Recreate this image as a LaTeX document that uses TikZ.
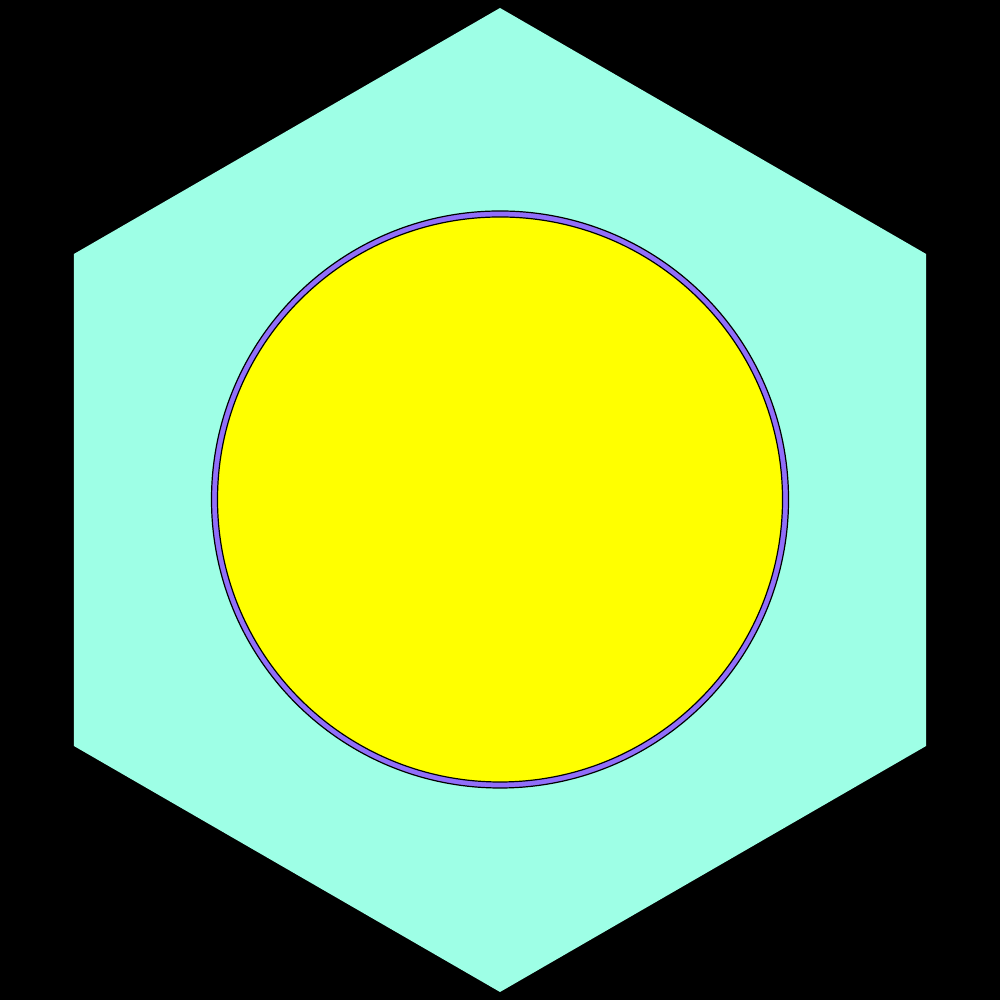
\documentclass[tikz,border=0pt]{standalone}
\usepackage{xcolor}
\usepackage{tikz}
\definecolor{hexfill}{RGB}{158,255,230}
\definecolor{ringcol}{RGB}{145,110,250}
\definecolor{corefill}{RGB}{255,255,0}

\begin{document}
\begin{tikzpicture}
  \fill[black] (0,0) rectangle (10,10);
  \useasboundingbox (0,0) rectangle (10,10);
  \begin{scope}[shift={(5,5)}]
    % hexagon
    \fill[hexfill] (90:4.92) -- (150:4.92) -- (210:4.92) -- (270:4.92)
      -- (330:4.92) -- (30:4.92) -- cycle;
    % ring and core
    \fill[ringcol, draw=black, line width=0.012cm] (0,0.005) circle (2.885);
    \fill[corefill, draw=black, line width=0.012cm] (0,0.005) circle (2.825);
  \end{scope}
\end{tikzpicture}
\end{document}
